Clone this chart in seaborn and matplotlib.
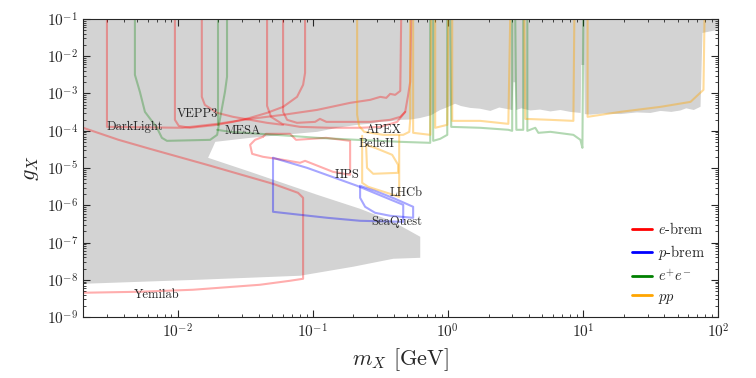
import matplotlib
matplotlib.use("Agg")
import matplotlib.pyplot as plt
from matplotlib.lines import Line2D
from matplotlib.ticker import LogLocator, NullFormatter
import seaborn as sns

# ---- data (mass m_X in GeV, coupling g_X) ----

# grey excluded region, boundary traced clockwise from the top-left corner
excl_m = [2.0e-3, 100, 100, 76.5, 74.0, 66, 58, 52.6, 45, 37.4, 31.5, 25, 18.9, 14, 11.3,
          10.3, 10.2, 9.7, 9.6, 8.06, 6.8, 5.73, 4.8, 4.07, 3.5, 3.2, 3.15, 3.05, 3.0, 2.4,
          2.06, 1.73, 1.46, 1.25, 1.13, 0.98, 0.877, 0.75, 0.624, 0.53, 0.443, 0.38, 0.315,
          0.27, 0.213, 0.152, 0.108, 0.0603, 0.0344, 0.0190, 0.0183, 0.0168, 0.0344, 0.108,
          0.224, 0.394, 0.624, 0.624, 0.394, 0.199, 0.0805, 0.0146, 2.0e-3]
excl_g = [0.1, 0.1, 5.1e-2, 4.2e-2, 4.4e-4, 3.6e-4, 4.0e-4, 3.5e-4, 3.2e-4, 3.4e-4, 3.0e-4,
          3.1e-4, 2.8e-4, 2.9e-4, 2.7e-4, 2.8e-4, 5.8e-3, 5.8e-3, 3.0e-4, 3.2e-4, 3.6e-4,
          3.3e-4, 3.7e-4, 3.5e-4, 4.0e-4, 3.6e-4, 2.0e-3, 2.0e-3, 3.6e-4, 4.2e-4, 3.4e-4,
          3.9e-4, 4.1e-4, 4.6e-4, 5.3e-4, 4.2e-4, 3.6e-4, 2.6e-4, 2.2e-4, 2.0e-4, 1.96e-4,
          1.8e-4, 1.73e-4, 1.55e-4, 1.44e-4, 1.20e-4, 9.35e-5, 7.76e-5, 6.45e-5, 5.04e-5,
          3.70e-5, 1.88e-5, 7.91e-6, 1.91e-6, 8.05e-7, 3.61e-7, 1.43e-7, 3.91e-8, 3.68e-8,
          2.25e-8, 1.29e-8, 1.01e-8, 7.85e-9]

# e-brem projections
darklight_m = [3.0e-3, 3.0e-3, 1.09e-2, 1.96e-2, 3.44e-2, 6.03e-2, 0.108, 0.189, 0.266, 0.316,
               0.350, 0.374, 0.407, 0.444, 0.451]
darklight_g = [0.1, 1.27e-4, 1.20e-4, 1.53e-4, 2.08e-4, 2.67e-4, 3.63e-4, 5.60e-4, 6.74e-4,
               8.11e-4, 7.62e-4, 9.75e-4, 9.17e-4, 1.17e-3, 0.1]
vepp3_e_m = [9.55e-3, 9.55e-3, 1.02e-2, 1.23e-2, 1.96e-2, 2.57e-2, 3.44e-2, 4.59e-2, 6.03e-2,
             7.65e-2, 8.48e-2, 8.77e-2, 8.77e-2]
vepp3_e_g = [0.1, 1.96e-4, 1.35e-4, 1.20e-4, 1.44e-4, 1.73e-4, 2.22e-4, 3.02e-4, 4.37e-4,
             8.11e-4, 1.70e-3, 3.56e-3, 0.1]
mesa_m = [1.51e-2, 1.51e-2, 1.59e-2, 1.96e-2, 2.57e-2, 3.44e-2, 4.59e-2, 6.03e-2]
mesa_g = [0.1, 8.11e-4, 4.94e-4, 3.02e-4, 2.36e-4, 1.96e-4, 1.63e-4, 1.44e-4]
apex_a_m = [4.59e-2, 4.59e-2, 4.91e-2, 5.93e-2, 8.05e-2, 0.134, 0.224, 0.316, 0.421, 0.483,
            0.508, 0.526, 0.535]
apex_a_g = [0.1, 4.65e-4, 2.36e-4, 1.53e-4, 1.27e-4, 1.20e-4, 1.20e-4, 1.27e-4, 1.73e-4,
            3.21e-4, 9.17e-4, 2.05e-3, 0.1]
apex_b_m = [6.03e-2, 6.03e-2, 6.46e-2, 7.65e-2, 0.104, 0.113, 0.126, 0.173, 0.266, 0.374,
            0.444, 0.483]
apex_b_g = [0.1, 3.21e-4, 1.96e-4, 1.63e-4, 1.73e-4, 2.08e-4, 1.73e-4, 1.73e-4, 1.73e-4,
            1.96e-4, 2.36e-4, 3.21e-4]
hps_m = [4.28e-2, 4.51e-2, 6.79e-2, 7.52e-2, 0.1255, 0.189, 0.189, 0.141, 9.55e-2, 8.77e-2,
         8.05e-2, 6.03e-2, 4.28e-2, 3.56e-2, 3.44e-2, 3.74e-2, 4.28e-2]
hps_g = [6.86e-5, 8.26e-5, 8.26e-5, 5.70e-5, 6.45e-5, 5.36e-5, 6.58e-6, 7.91e-6, 1.38e-5,
         1.56e-5, 1.38e-5, 1.66e-5, 2.00e-5, 2.40e-5, 4.19e-5, 5.70e-5, 6.86e-5]
yemilab_m = [2.0e-3, 3.66e-3, 6.24e-3, 1.65e-2, 5.08e-2, 7.78e-2, 8.48e-2, 8.48e-2, 6.79e-2,
             4.07e-2, 1.30e-2, 5.26e-3, 2.0e-3]
yemilab_g = [1.20e-4, 5.70e-5, 3.27e-5, 1.22e-5, 3.77e-6, 2.16e-6, 1.59e-6, 1.07e-8, 9.46e-9,
             7.39e-9, 5.43e-9, 4.80e-9, 4.51e-9]

# p-brem projections
seaquest_a_m = [5.08e-2, 5.08e-2, 8.05e-2, 0.128, 0.224, 0.467, 0.467, 0.213, 9.08e-2, 5.08e-2]
seaquest_a_g = [1.88e-5, 6.70e-7, 5.56e-7, 4.62e-7, 3.84e-7, 3.61e-7, 1.03e-6, 3.33e-6,
                1.01e-5, 1.88e-5]
seaquest_b_m = [0.224, 0.224, 0.244, 0.289, 0.374, 0.553, 0.553, 0.407, 0.289, 0.224]
seaquest_b_g = [3.33e-6, 1.59e-6, 9.12e-7, 6.30e-7, 5.23e-7, 4.62e-7, 9.12e-7, 1.49e-6,
                2.45e-6, 3.33e-6]

# e+e- projections
vepp3_m = [4.83e-3, 4.83e-3, 5.26e-3, 5.73e-3, 7.03e-3, 7.65e-3, 8.34e-3, 1.74e-2, 1.96e-2,
           2.02e-2, 2.13e-2, 2.24e-2, 2.32e-2, 2.32e-2]
vepp3_g = [0.1, 3.16e-3, 1.10e-3, 3.21e-4, 1.20e-4, 6.45e-5, 5.36e-5, 5.70e-5, 7.76e-5,
           1.44e-4, 4.11e-4, 1.10e-3, 2.79e-3, 0.1]
vepp3_b_m = [2.00e-2, 2.00e-2]
vepp3_b_g = [0.1, 1.44e-4]
belle2_m = [1.96e-2, 2.44e-2, 4.07e-2, 6.79e-2, 0.108, 0.213, 0.444, 0.740, 0.740, 0.778,
            0.778, 0.877, 0.989, 0.989, 1.040, 1.058, 1.734, 2.80, 2.99, 2.99, 3.15, 3.21,
            3.61, 3.61, 3.87, 3.87, 4.43, 4.67, 5.73, 8.48, 9.56, 9.89, 10.05]
belle2_g = [1.06e-4, 9.35e-5, 8.26e-5, 7.30e-5, 6.45e-5, 5.70e-5, 5.04e-5, 4.74e-5, 0.1, 0.1,
            5.36e-5, 6.07e-5, 7.76e-5, 0.1, 0.1, 1.27e-4, 1.20e-4, 1.06e-4, 9.94e-5, 0.1, 0.1,
            1.06e-4, 1.06e-4, 0.1, 0.1, 9.94e-5, 1.20e-4, 8.79e-5, 9.35e-5, 7.76e-5, 5.70e-5,
            3.48e-5, 0.1]

# pp projections
pp_apex_m = [0.213, 0.213, 0.220, 0.240, 0.332, 0.467, 0.518, 0.526, 0.526]
pp_apex_g = [0.1, 2.67e-4, 1.35e-4, 9.35e-5, 7.76e-5, 7.76e-5, 9.35e-5, 1.96e-4, 0.1]
lhcb_a_m = [0.232, 0.232, 0.257, 0.374, 0.436, 0.436]
lhcb_a_g = [7.30e-5, 4.01e-6, 3.13e-6, 2.03e-6, 1.69e-6, 7.30e-5]
lhcb_b_m = [0.248, 0.289, 0.387, 0.428, 0.428, 0.280, 0.252, 0.248]
lhcb_b_g = [4.19e-5, 3.48e-5, 2.26e-5, 1.22e-5, 7.43e-6, 7.0e-6, 1.01e-5, 4.19e-5]
pp_high_m = [0.553, 0.553, 0.740, 0.752, 0.805, 0.805, 0.989, 1.005, 1.076, 1.076, 1.734, 2.80,
             2.89, 3.68, 3.74, 5.73, 8.48, 8.62, 10.8, 10.8, 18.9, 37.4, 62.4, 77.8, 79.2]
pp_high_g = [0.1, 8.79e-5, 7.76e-5, 0.1, 0.1, 1.20e-4, 1.44e-4, 0.1, 0.1, 1.84e-4, 1.84e-4,
             1.53e-4, 0.1, 0.1, 2.08e-4, 1.96e-4, 1.84e-4, 0.1, 0.1, 2.36e-4, 3.21e-4, 4.37e-4,
             5.95e-4, 1.25e-3, 0.1]

# experiment labels and where they sit
label_names = ["DarkLight", "VEPP3", "MESA", "APEX", "BelleII", "HPS", "LHCb", "SeaQuest", "Yemilab"]
label_m = [4.83e-3, 1.41e-2, 3.05e-2, 0.332, 0.294, 0.179, 0.491, 0.421, 7.05e-3]
label_g = [1.27e-4, 2.84e-4, 9.93e-5, 1.06e-4, 4.45e-5, 6.58e-6, 2.16e-6, 3.61e-7, 3.99e-9]

legend_labels = [r"$e$-brem", r"$p$-brem", r"$e^{+}e^{-}$", r"$pp$"]
legend_colors = ["red", "blue", "green", "orange"]

# ---- style ----
sns.set_style("ticks")
plt.rcParams.update({
    "font.family": "serif",
    "font.serif": ["cmr10"],
    "mathtext.fontset": "cm",
    "axes.unicode_minus": False,
    "axes.formatter.use_mathtext": True,
})

fig = plt.figure(figsize=(7.56, 3.78), dpi=100)
ax = fig.add_axes([0.110, 0.161, 0.840, 0.789])
ax.set_xscale("log")
ax.set_yscale("log")

ax.fill(excl_m, excl_g, color="lightgrey", lw=0, zorder=0)


def trace(m, g, color, alpha=0.35):
    sns.lineplot(x=m, y=g, sort=False, estimator=None, color=color,
                 alpha=alpha, lw=1.5, ax=ax)


for m, g in [(darklight_m, darklight_g), (vepp3_e_m, vepp3_e_g), (mesa_m, mesa_g),
             (apex_a_m, apex_a_g), (apex_b_m, apex_b_g), (hps_m, hps_g),
             (yemilab_m, yemilab_g)]:
    trace(m, g, "red", 0.32)
for m, g in [(seaquest_a_m, seaquest_a_g), (seaquest_b_m, seaquest_b_g)]:
    trace(m, g, "blue", 0.35)
for m, g in [(vepp3_m, vepp3_g), (vepp3_b_m, vepp3_b_g), (belle2_m, belle2_g)]:
    trace(m, g, "green", 0.3)
for m, g in [(pp_apex_m, pp_apex_g), (lhcb_a_m, lhcb_a_g), (lhcb_b_m, lhcb_b_g),
             (pp_high_m, pp_high_g)]:
    trace(m, g, "orange", 0.4)

for name, m, g in zip(label_names, label_m, label_g):
    ax.text(m, g, name, ha="center", va="center", fontsize=9, zorder=5)

ax.set_xlim(2e-3, 100)
ax.set_ylim(1e-9, 1e-1)
ax.xaxis.set_major_locator(LogLocator(base=10, numticks=20))
ax.yaxis.set_major_locator(LogLocator(base=10, numticks=20))
ax.xaxis.set_minor_locator(LogLocator(base=10, subs=range(2, 10), numticks=20))
ax.yaxis.set_minor_locator(LogLocator(base=10, subs=range(2, 10), numticks=20))
ax.xaxis.set_minor_formatter(NullFormatter())
ax.yaxis.set_minor_formatter(NullFormatter())
ax.tick_params(which="both", direction="in", top=True, right=True, labelsize=11)
ax.tick_params(which="major", length=5)
ax.tick_params(which="minor", length=2.5)

ax.set_xlabel(r"$m_X$ [GeV]", fontsize=16)
ax.set_ylabel(r"$g_X$", fontsize=16)

handles = [Line2D([], [], color=c, lw=2) for c in legend_colors]
ax.legend(handles, legend_labels, loc="lower right", frameon=False, fontsize=10.5,
          handlelength=1.4, handletextpad=0.4, labelspacing=0.4,
          bbox_to_anchor=(1.0, -0.005))

fig.savefig("out.png", dpi=100)
